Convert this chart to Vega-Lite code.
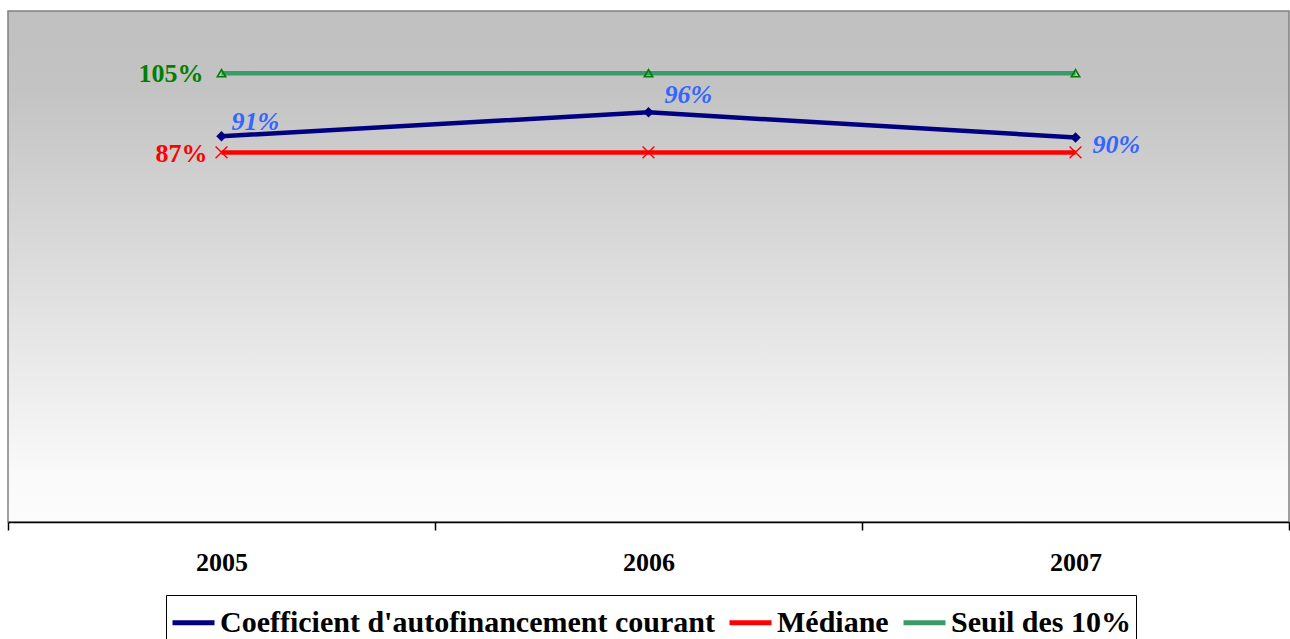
{
  "$schema": "https://vega.github.io/schema/vega-lite/v6.json",
  "width": 1281,
  "height": 511,
  "autosize": {"type": "none"},
  "padding": {"left": 8, "top": 11, "right": 1, "bottom": 117},
  "background": "#ffffff",
  "config": {
    "view": {
      "stroke": "#808080",
      "strokeWidth": 1.5,
      "fill": {"gradient": "linear", "x1": 0, "y1": 0, "x2": 0, "y2": 1,
        "stops": [{"offset": 0, "color": "#c0c0c0"}, {"offset": 0.15, "color": "#c3c3c3"}, {"offset": 0.9, "color": "#f9f9f9"}, {"offset": 1, "color": "#fcfcfc"}]}
    },
    "font": "Liberation Serif"
  },
  "data": {"values": [
    {"year": "2005", "series": "Coefficient d'autofinancement courant", "value": 0.906},
    {"year": "2006", "series": "Coefficient d'autofinancement courant", "value": 0.962},
    {"year": "2007", "series": "Coefficient d'autofinancement courant", "value": 0.903},
    {"year": "2005", "series": "Médiane", "value": 0.868},
    {"year": "2006", "series": "Médiane", "value": 0.868},
    {"year": "2007", "series": "Médiane", "value": 0.868},
    {"year": "2005", "series": "Seuil des 10%", "value": 1.054},
    {"year": "2006", "series": "Seuil des 10%", "value": 1.054},
    {"year": "2007", "series": "Seuil des 10%", "value": 1.054}
  ]},
  "encoding": {
    "x": {"field": "year", "type": "ordinal", "bandPosition": 0.5,
      "scale": {"type": "band", "paddingInner": 0, "paddingOuter": 0},
      "axis": {"title": null, "labelAngle": 0, "tickBand": "extent", "domainColor": "#000000", "domainWidth": 1.5,
        "tickColor": "#000000", "tickWidth": 1.5, "tickSize": 8, "labelPadding": 19,
        "labelFont": "Liberation Serif", "labelFontSize": 26, "labelFontWeight": "bold", "labelColor": "#000000"}},
    "y": {"field": "value", "type": "quantitative", "scale": {"domain": [0, 1.2], "nice": false, "zero": false}, "axis": null}
  },
  "layer": [
    {
      "mark": {"type": "line", "strokeWidth": 4.5},
      "encoding": {
        "color": {"field": "series", "type": "nominal",
          "scale": {"domain": ["Coefficient d'autofinancement courant", "Médiane", "Seuil des 10%"], "range": ["#000080", "#ff0000", "#3a9a6a"]},
          "legend": {"title": null, "orient": "none", "legendX": 158, "legendY": 584, "direction": "horizontal",
            "symbolType": "stroke", "symbolStrokeWidth": 5, "symbolSize": 1764,
            "labelFont": "Liberation Serif", "labelFontSize": 30, "labelFontWeight": "bold", "labelColor": "#000000",
            "labelOffset": 3, "columnPadding": 4, "strokeColor": "#000000", "padding": 4, "labelLimit": 800}}
      }
    },
    {
      "transform": [{"filter": "datum.series === \"Coefficient d'autofinancement courant\""}],
      "mark": {"type": "point", "shape": "diamond", "filled": true, "color": "#000080", "size": 110, "opacity": 1}
    },
    {
      "transform": [{"filter": "datum.series === 'Médiane'"}],
      "mark": {"type": "point", "shape": "M-1,-1L1,1M-1,1L1,-1", "filled": false, "stroke": "#ff0000", "strokeWidth": 1.4, "size": 140, "opacity": 1}
    },
    {
      "transform": [{"filter": "datum.series === 'Seuil des 10%'"}],
      "mark": {"type": "point", "shape": "triangle-up", "filled": false, "stroke": "#008000", "strokeWidth": 1.6, "size": 70, "opacity": 1}
    },
    {
      "transform": [{"filter": "datum.series === 'Seuil des 10%' && datum.year === '2005'"}],
      "mark": {"type": "text", "align": "right", "baseline": "middle", "dx": -18, "dy": 1, "font": "Liberation Serif", "fontSize": 26, "fontWeight": "bold", "color": "#008000"},
      "encoding": {"text": {"field": "value", "type": "quantitative", "format": ".0%"}}
    },
    {
      "transform": [{"filter": "datum.series === 'Médiane' && datum.year === '2005'"}],
      "mark": {"type": "text", "align": "right", "baseline": "middle", "dx": -14, "dy": 2, "font": "Liberation Serif", "fontSize": 26, "fontWeight": "bold", "color": "#ff0000"},
      "encoding": {"text": {"field": "value", "type": "quantitative", "format": ".0%"}}
    },
    {
      "transform": [{"filter": "datum.series === \"Coefficient d'autofinancement courant\" && datum.year === '2005'"}],
      "mark": {"type": "text", "align": "left", "baseline": "middle", "dx": 10, "dy": -14, "font": "Liberation Serif", "fontSize": 26, "fontWeight": "bold", "fontStyle": "italic", "color": "#3366ff"},
      "encoding": {"text": {"field": "value", "type": "quantitative", "format": ".0%"}}
    },
    {
      "transform": [{"filter": "datum.series === \"Coefficient d'autofinancement courant\" && datum.year === '2006'"}],
      "mark": {"type": "text", "align": "left", "baseline": "middle", "dx": 16, "dy": -17, "font": "Liberation Serif", "fontSize": 26, "fontWeight": "bold", "fontStyle": "italic", "color": "#3366ff"},
      "encoding": {"text": {"field": "value", "type": "quantitative", "format": ".0%"}}
    },
    {
      "transform": [{"filter": "datum.series === \"Coefficient d'autofinancement courant\" && datum.year === '2007'"}],
      "mark": {"type": "text", "align": "left", "baseline": "middle", "dx": 17, "dy": 8, "font": "Liberation Serif", "fontSize": 26, "fontWeight": "bold", "fontStyle": "italic", "color": "#3366ff"},
      "encoding": {"text": {"field": "value", "type": "quantitative", "format": ".0%"}}
    }
  ]
}
